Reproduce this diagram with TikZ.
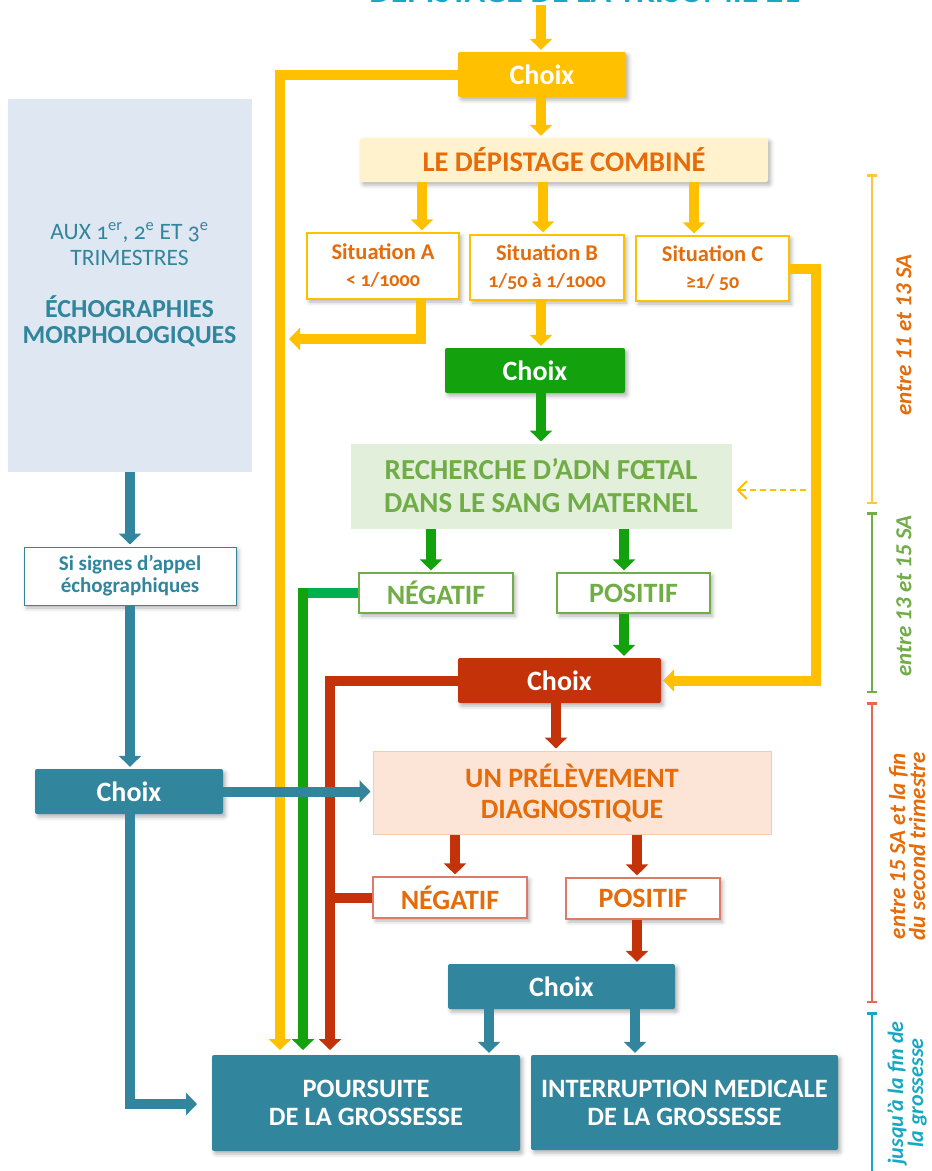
\documentclass[tikz,border=0pt]{standalone}
\usepackage{fontspec}
\setmainfont{Carlito}
\newfontfamily\oldnum[Numbers=OldStyle]{Carlito}
\usetikzlibrary{arrows.meta,shadows.blur}

\definecolor{jaune}{HTML}{FFC000}
\definecolor{jauneS}{HTML}{FFC640}
\definecolor{jauneF}{HTML}{FFF2CC}
\definecolor{orangeT}{HTML}{E46C0A}
\definecolor{vert}{HTML}{13A10E}
\definecolor{vertvif}{HTML}{00B050}
\definecolor{vertT}{HTML}{70AD47}
\definecolor{vertF}{HTML}{E2EFDA}
\definecolor{rouge}{HTML}{C4320A}
\definecolor{rougeB}{HTML}{DE7A68}
\definecolor{rougeS}{HTML}{E8694A}
\definecolor{peche}{HTML}{FCE4D6}
\definecolor{pecheB}{HTML}{F8CBAD}
\definecolor{bleu}{HTML}{31859C}
\definecolor{bleuF}{HTML}{DFE7F2}
\definecolor{cyanT}{HTML}{17A9C4}

\newcommand{\fsz}[2]{\fontsize{#1}{#2}\selectfont}

\begin{document}
\begin{tikzpicture}[x=1pt,y=-1pt,
  sz/.style 2 args={minimum width=#1,minimum height=#2},
  base/.style={inner sep=0pt,align=center},
  ombre/.style={blur shadow={shadow xshift=2.5pt,shadow yshift=-3pt,shadow blur radius=4pt,shadow opacity=30}},
  choix/.style={base,fill=#1,text=white,rounded corners=2pt,font=\bfseries\fsz{28}{32},ombre},
  cadre/.style={base,fill=white,draw=#1,line width=1.2pt,font=\bfseries,ombre},
  pale/.style 2 args={base,fill=#1,draw=#2,line width=1pt},
  arr/.style={line width=10pt,-{Triangle[width=22pt,length=11pt]},shorten >=2pt},
  bus/.style={line width=10pt},
  span/.style={line width=2.5pt,{Bar[width=10pt]}-{Bar[width=10pt]}},
  side/.style={rotate=90,font=\bfseries\itshape\fsz{23}{20},align=center}]
\useasboundingbox (0,0) rectangle (932,1171);
\clip (0,0) rectangle (932,1171);

% Title (cut at the top)
\node[anchor=base,text=cyanT,font=\bfseries\fsz{34}{40}] (titre) at (585,2) {DÉPISTAGE DE LA TRISOMIE 21};

% Helper columns and bends
\coordinate (top) at (541,5);
\coordinate (xm) at (541,0);
\coordinate (xa) at (422,0);
\coordinate (xb) at (543,0);
\coordinate (xc) at (694,0);
\coordinate (xn) at (431,0);
\coordinate (xp) at (624,0);
\coordinate (xr) at (556,0);
\coordinate (xnr) at (455,0);
\coordinate (xpr) at (637,0);
\coordinate (xd1) at (489,0);
\coordinate (xd2) at (635,0);
\coordinate (xe) at (130,0);
\coordinate (yBus) at (280,1052);
\coordinate (aBend) at (421,339);
\coordinate (aEnd) at (287,339);
\coordinate (cRight) at (816,680.5);
\coordinate (gTop) at (303,588);
\coordinate (gBus) at (303,1052);
\coordinate (rBus) at (330,1052);
\coordinate (tEnd) at (199,1104);
\coordinate (dashSrc) at (806,490);

% Screening
\node[choix=jaune,sz={168}{45}] (choixA) at (542,74.5) {Choix};
\node[base,sz={408}{44},fill=jauneF,rounded corners=2pt,text=orangeT,font=\bfseries\fsz{28.5}{32},ombre] (depist) at (564,160) {LE DÉPISTAGE COMBINÉ};
\node[cadre=jaune,sz={152}{66},text=orangeT,font=\bfseries\fsz{22.5}{27}] (sitA) at (383,266) {Situation A\\{\oldnum\fsz{20}{27}< 1/1000}};
\node[cadre=jaune,sz={154}{65},text=orangeT,font=\bfseries\fsz{22.5}{27}] (sitB) at (547,267.5) {Situation B\\{\oldnum\fsz{20}{27}1/50 à 1/1000}};
\node[cadre=jaune,sz={153}{65},text=orangeT,font=\bfseries\fsz{22.5}{27}] (sitC) at (712.5,268.5) {Situation C\\{\oldnum\fsz{20}{27}≥1/ 50}};

% Foetal DNA
\node[choix=vert,sz={180}{45}] (choixB) at (535,370.5) {Choix};
\node[pale={vertF}{vertF},sz={380}{84},text=vertT,font=\bfseries\fsz{29}{33}] (adn) at (541,486) {RECHERCHE D’ADN FŒTAL\\DANS LE SANG MATERNEL};
\node[cadre=vertT,sz={154}{40},text=vertT,font=\bfseries\fsz{28}{30}] (negV) at (436,593) {NÉGATIF};
\node[cadre=vertT,sz={153}{40},text=vertT,font=\bfseries\fsz{28}{30}] (posV) at (633.5,593) {POSITIF};

% Diagnosis
\node[choix=rouge,sz={203}{45}] (choixC) at (559.5,680.5) {Choix};
\node[pale={peche}{pecheB},sz={398}{83},text=orangeT,font=\bfseries\fsz{28}{31}] (prelev) at (572,792.5) {UN PRÉLÈVEMENT\\DIAGNOSTIQUE};
\node[cadre=rougeB,sz={154}{41},text=orangeT,font=\bfseries\fsz{28}{30}] (negR) at (450,897.5) {NÉGATIF};
\node[cadre=rougeB,sz={154}{41},text=orangeT,font=\bfseries\fsz{28}{30}] (posR) at (643,898.5) {POSITIF};
\node[choix=bleu,sz={227}{45}] (choixD) at (561.5,986.5) {Choix};

% Outcomes
\node[choix=bleu,sz={308}{96},font=\bfseries\fsz{26.5}{28}] (pours) at (366,1103) {POURSUITE\\DE LA GROSSESSE};
\node[choix=bleu,sz={307}{95},font=\bfseries\fsz{26.5}{28}] (interr) at (684.5,1102.5) {INTERRUPTION MEDICALE\\DE LA GROSSESSE};

% Ultrasound
\node[pale={bleuF}{bleuF},sz={243}{372},text=bleu,font=\oldnum\fsz{23.5}{26}] (echo) at (129.5,285) {AUX 1\textsuperscript{er}, 2\textsuperscript{e} ET 3\textsuperscript{e}\\TRIMESTRES\\[26pt]\textbf{\fsz{26}{28}ÉCHOGRAPHIES}\\\textbf{\fsz{26}{28}MORPHOLOGIQUES}};
\node[cadre=bleu,line width=1pt,sz={212}{58},text=bleu,font=\bfseries\fsz{21}{22}] (signes) at (130,576) {Si signes d’appel\\échographiques};
\node[choix=bleu,sz={188}{45}] (choixE) at (129,791.5) {Choix};

% Yellow connectors
\draw[arr,jaune] (top) -- (choixA.north -| top);
\draw[arr,jaune] (choixA.south -| xm) -- (depist.north -| xm);
\draw[arr,jaune] (depist.south -| xa) -- (sitA.north -| xa);
\draw[arr,jaune] (depist.south -| xb) -- (sitB.north -| xb);
\draw[arr,jaune] (depist.south -| xc) -- (sitC.north -| xc);
\draw[arr,jaune] (choixA.west) -| (yBus);
\draw[arr,jaune] (sitA.south -| aBend) -- (aBend) -- (aEnd);
\draw[arr,jaune] (sitB.south -| xm) -- (choixB.north -| xm);
\draw[arr,jaune] (sitC.east) -| (cRight) -- (choixC.east);
\draw[jaune,line width=2pt,dash pattern=on 6pt off 4pt,-{Straight Barb[width=18pt,length=9pt]},shorten >=5pt] (dashSrc) -- (adn.east |- dashSrc);

% Green connectors
\draw[arr,vert] (choixB.south -| xm) -- (adn.north -| xm);
\draw[arr,vert] (adn.south -| xn) -- (negV.north -| xn);
\draw[arr,vert] (adn.south -| xp) -- (posV.north -| xp);
\draw[arr,vert] (posV.south -| xp) -- (choixC.north -| xp);
\draw[bus,vertvif] (negV.west) -- (negV.west -| gBus);
\draw[arr,vert] (gTop) -- (gBus);

% Red connectors
\draw[arr,rouge] (choixC.south -| xr) -- (prelev.north -| xr);
\draw[arr,rouge] (choixC.west) -| (rBus);
\draw[arr,rouge] (prelev.south -| xnr) -- (negR.north -| xnr);
\draw[arr,rouge] (prelev.south -| xpr) -- (posR.north -| xpr);
\draw[bus,rouge] (negR.west) -- (negR.west -| rBus);
\draw[arr,rouge] (posR.south -| xpr) -- (choixD.north -| xpr);

% Blue connectors
\draw[arr,bleu] (choixD.south -| xd1) -- (pours.north -| xd1);
\draw[arr,bleu] (choixD.south -| xd2) -- (interr.north -| xd2);
\draw[arr,bleu] (echo.south -| xe) -- (signes.north -| xe);
\draw[arr,bleu] (signes.south -| xe) -- (choixE.north -| xe);
\draw[arr,bleu] (choixE.east) -- (prelev.west |- choixE.east);
\draw[arr,bleu] (choixE.south -| xe) |- (tEnd);

% Time scale
\draw[span,jauneS] (872,174) -- (872,504);
\draw[span,vertT] (872,512) -- (872,693);
\draw[span,rougeS] (872,702) -- (872,1003);
\draw[line width=2.5pt,cyanT,{Bar[width=10pt]}-] (872,1012) -- (872,1180);
\node[side,text=orangeT] (t1) at (904,335) {entre 11 et 13 SA};
\node[side,text=vertT] (t2) at (904,596) {entre 13 et 15 SA};
\node[side,text=orangeT] (t3) at (907,846) {entre 15 SA et la fin\\du second trimestre};
\node[side,text=cyanT,font=\bfseries\itshape\fsz{22}{17}] (t4) at (907,1093) {jusqu’à la fin de\\la grossesse};

\end{tikzpicture}
\end{document}
